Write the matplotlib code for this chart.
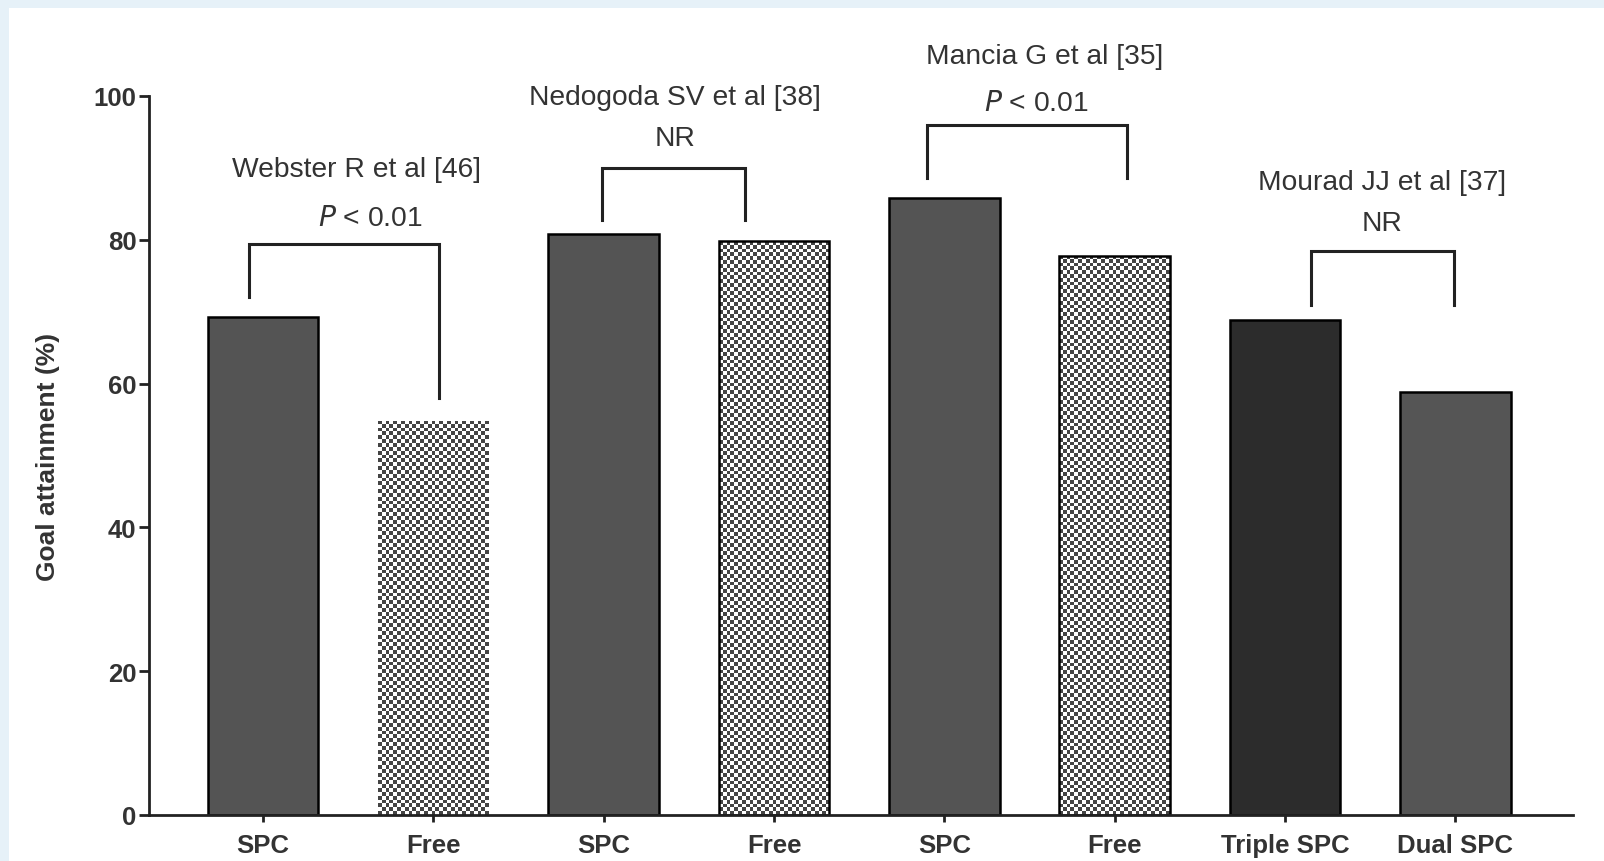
import numpy as np
import matplotlib
matplotlib.use("Agg")
import matplotlib.pyplot as plt
from matplotlib.patches import Rectangle

plt.rcParams['font.family'] = ['Liberation Sans', 'DejaVu Sans']

# data
categories = ["SPC", "Free", "SPC", "Free", "SPC", "Free", "Triple SPC", "Dual SPC"]
values = [69.3, 54.8, 80.8, 79.8, 85.8, 77.8, 68.9, 58.8]
is_free = [False, True, False, True, False, True, False, False]

studies = ["Webster R et al [46]", "Nedogoda SV et al [38]", "Mancia G et al [35]", "Mourad JJ et al [37]"]
p_labels = ["$\\it{P}$ < 0.01", "NR", "$\\it{P}$ < 0.01", "NR"]
# bracket legs (x in category units) and heights
leg_x_left = [-0.08, 1.99, 3.90, 6.15]
leg_x_right = [1.03, 2.83, 5.07, 6.99]
bracket_top = [79.4, 90.0, 95.9, 78.4]
leg_left = [72.0, 82.8, 88.6, 71.0]
leg_right = [58.0, 82.8, 88.6, 71.0]
study_x = [0.55, 2.42, 4.59, 6.57]
study_y = [89.8, 99.9, 105.5, 88.0]
p_x = [0.63, 2.42, 4.54, 6.57]
p_y = [83.0, 94.2, 99.0, 82.4]

solid_colors = {0: "#545454", 2: "#545454", 4: "#545454", 6: "#2c2c2c", 7: "#555555"}

fig = plt.figure(figsize=(16.04, 8.62), dpi=100)
fig.patch.set_facecolor("#e6f1f8")
# white panel
fig.add_artist(Rectangle((9 / 1604, 0), 1, 1 - 9 / 862, transform=fig.transFigure,
                         facecolor="white", edgecolor="none", zorder=0))

ax = fig.add_axes([149 / 1604, 1 - 816 / 862, (1573 - 149) / 1604, (816 - 97) / 862])
ax.set_facecolor("none")

x = np.arange(len(values))
width = 0.65

for i, (xi, v) in enumerate(zip(x, values)):
    if is_free[i]:
        edge = "none" if i == 1 else "black"
        bar = ax.bar(xi, v, width, facecolor="white", edgecolor=edge, linewidth=1.8, zorder=2)[0]
        # checkerboard fill, about 4px cells
        px_w = width * 170.4
        px_h = v * 7.19
        nx = int(px_w / 3.8)
        ny = int(px_h / 3.8)
        checker = (np.add.outer(np.arange(ny), np.arange(nx)) % 2).astype(float)
        im = ax.imshow(checker, cmap=matplotlib.colors.ListedColormap(["#444444", "white"]),
                       extent=(xi - width / 2, xi + width / 2, 0, v), aspect="auto",
                       interpolation="nearest", zorder=1.5)
        im.set_clip_path(bar)
        bar.set_facecolor("none")
    else:
        ax.bar(xi, v, width, color=solid_colors[i], edgecolor="black", linewidth=1.8, zorder=2)

# brackets and labels
for k in range(len(studies)):
    xl, xr = leg_x_left[k], leg_x_right[k]
    ax.plot([xl, xl, xr, xr], [leg_left[k], bracket_top[k], bracket_top[k], leg_right[k]],
            color="#222222", lw=2.2, clip_on=False, zorder=3, solid_joinstyle="miter")
    ax.text(study_x[k], study_y[k], studies[k], ha="center", va="center", fontsize=20.3,
            color="#333333", clip_on=False)
    ax.text(p_x[k], p_y[k], p_labels[k], ha="center", va="center", fontsize=20.3,
            color="#333333", clip_on=False)

ax.set_xlim(-0.67, 7.69)
ax.set_ylim(0, 100)
ax.set_yticks([0, 20, 40, 60, 80, 100])
ax.set_xticks(x)
ax.set_xticklabels(categories, fontsize=18.5, fontweight="bold", color="#333333")
for lab in ax.get_yticklabels():
    lab.set_fontsize(18.5)
    lab.set_fontweight("bold")
    lab.set_color("#333333")
ax.set_ylabel("Goal attainment (%)", fontsize=19, fontweight="bold", color="#333333", labelpad=24)

for s in ["top", "right"]:
    ax.spines[s].set_visible(False)
for s in ["left", "bottom"]:
    ax.spines[s].set_linewidth(2)
    ax.spines[s].set_color("#222222")
ax.tick_params(axis="y", length=7, width=2, color="#222222", pad=2)
ax.tick_params(axis="x", length=5, width=2, color="#222222", pad=8)

fig.savefig("out.png", dpi=100, facecolor=fig.get_facecolor())
